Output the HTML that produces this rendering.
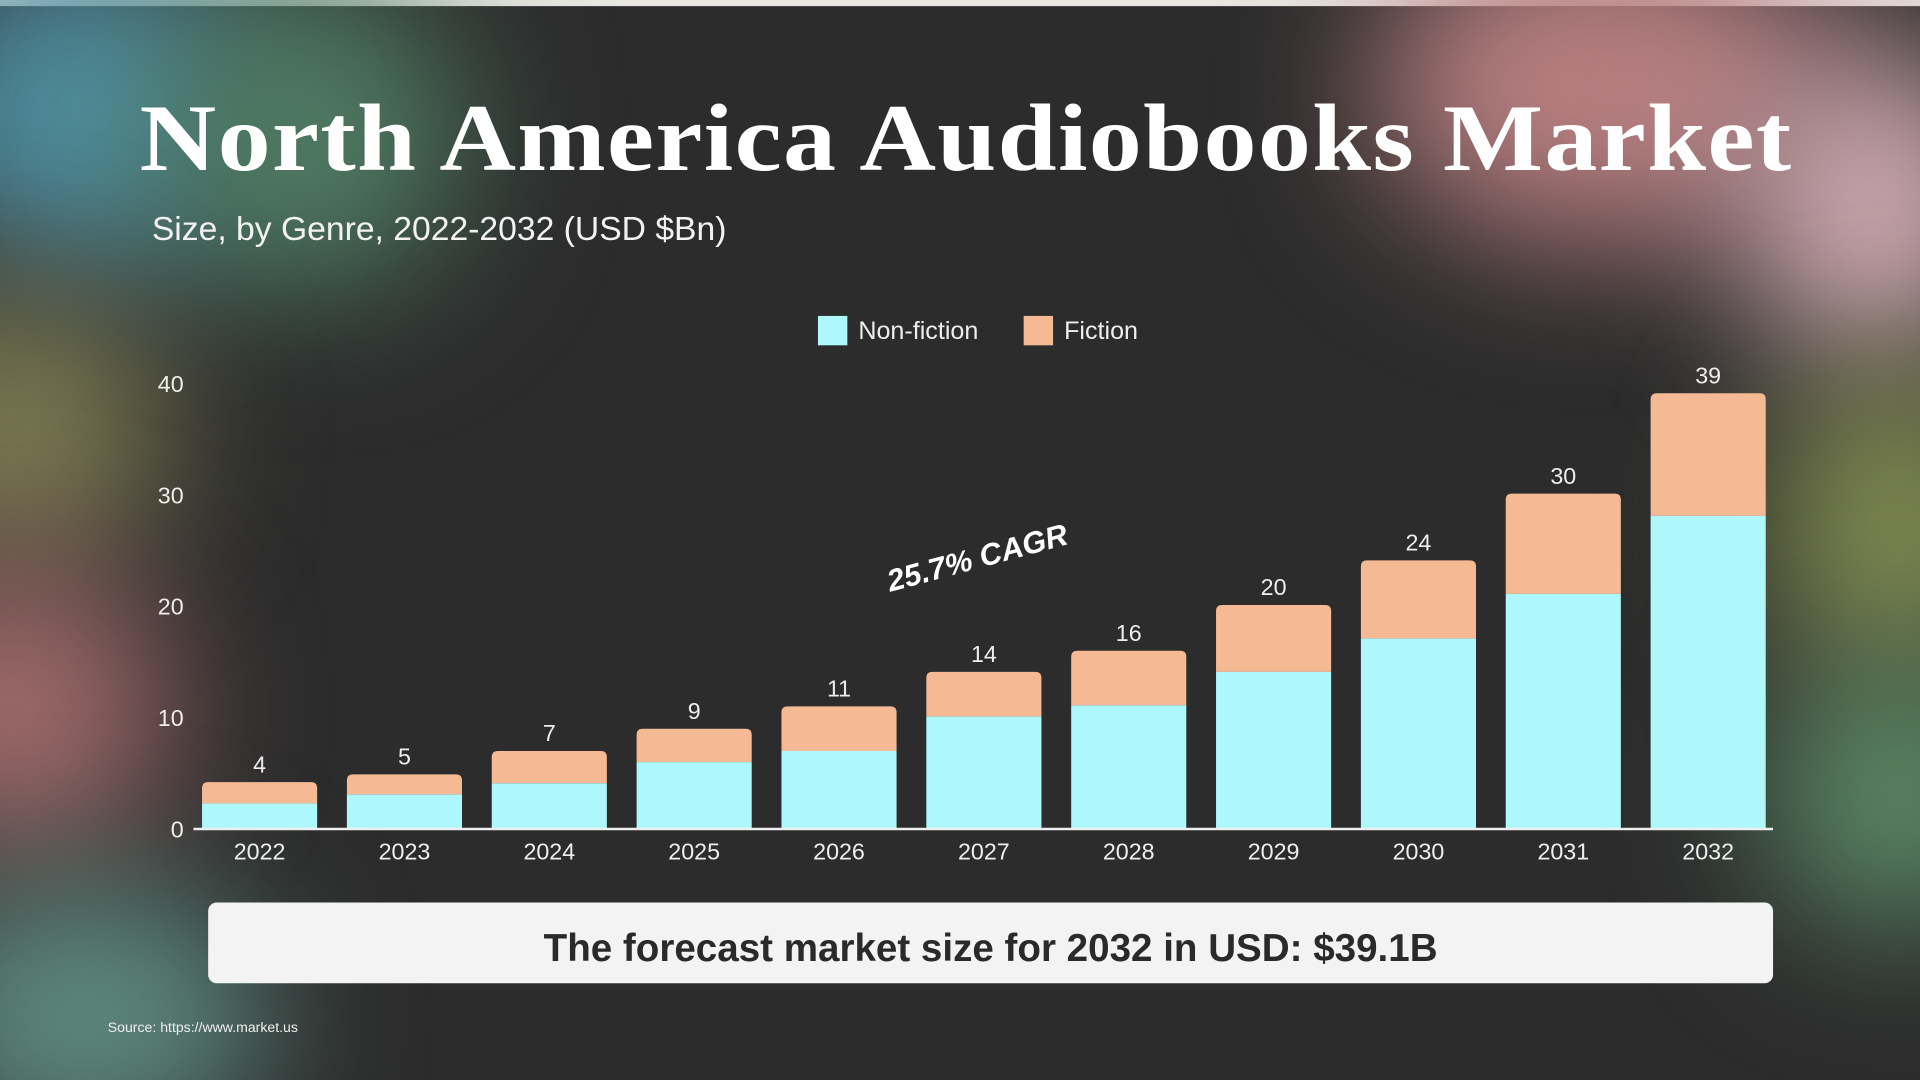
<!DOCTYPE html>
<html><head><meta charset="utf-8">
<style>
html,body{margin:0;padding:0;width:1920px;height:1080px;overflow:hidden;background:#2b2b2b}
#stage{position:absolute;left:0;top:0;width:1568px;height:882px;transform:scale(1.22449);transform-origin:0 0;overflow:hidden;background:#2c2c2c;font-family:"Liberation Sans",sans-serif}
.blob{position:absolute;border-radius:50%;filter:blur(60px)}
</style></head>
<body>
<div id="stage">
  <div style="position:absolute;left:0;top:0;width:1568px;height:5px;background:#e8e6e1"></div>
  <div class="blob" style="left:-80px;top:-40px;width:300px;height:260px;background:#4f8ea0"></div>
  <div class="blob" style="left:120px;top:-20px;width:260px;height:260px;background:#4f7a62"></div>
  <div class="blob" style="left:-120px;top:240px;width:260px;height:220px;background:#7c7a52"></div>
  <div class="blob" style="left:-120px;top:460px;width:260px;height:240px;background:#a06a6a"></div>
  <div class="blob" style="left:-80px;top:720px;width:300px;height:220px;background:#5e8a80"></div>
  <div class="blob" style="left:1120px;top:-60px;width:380px;height:260px;background:#b87f80"></div>
  <div class="blob" style="left:1420px;top:40px;width:220px;height:260px;background:#cfaab2"></div>
  <div class="blob" style="left:1440px;top:300px;width:220px;height:260px;background:#7f8a50"></div>
  <div class="blob" style="left:1440px;top:540px;width:220px;height:220px;background:#5c8a66"></div>

  <div style="position:absolute;left:0;width:1578px;top:68px;text-align:center;color:#fff;font-family:'Liberation Serif',serif;font-weight:bold;font-size:78px;letter-spacing:1px;transform:scaleX(1.11);transform-origin:789px 0">North America Audiobooks Market</div>
  <div style="position:absolute;left:124px;top:171px;color:#f2f2f2;font-size:27.5px">Size, by Genre, 2022-2032 (USD $Bn)</div>

  <svg id="chart" width="1568" height="882" style="position:absolute;left:0;top:0"></svg>

  <div style="position:absolute;left:170px;top:737px;width:1278px;height:66px;background:#f3f3f3;border-radius:7px;text-align:center;line-height:74px;font-size:31.5px;font-weight:bold;color:#2a2a2a">The forecast market size for 2032 in USD: $39.1B</div>
  <div style="position:absolute;left:88px;top:834px;font-size:11.5px;color:#eee">Source: https://www.market.us</div>
</div>
<script>
const years=["2022","2023","2024","2025","2026","2027","2028","2029","2030","2031","2032"];
const nonFiction=[2.3,3.1,4.1,6.0,7.0,10.1,11.1,14.1,17.1,21.1,28.1];
const fiction=[1.9,1.8,2.9,3.0,4.0,4.0,4.9,6.0,7.0,9.0,11.0];
const totalLabels=["4","5","7","9","11","14","16","20","24","30","39"];
const yTicks=[0,10,20,30,40];
const NS="http://www.w3.org/2000/svg";
const svg=document.getElementById('chart');
const y0=677,pxPer=9.1,x0=212,step=118.3,bw=94;
const yS=v=>y0-v*pxPer;
const xS=i=>x0+i*step;
function mk(t,a){const e=document.createElementNS(NS,t);for(const k in a)e.setAttribute(k,a[k]);svg.appendChild(e);return e;}
yTicks.forEach(v=>{
  const t=mk('text',{x:150,y:yS(v)+7,'text-anchor':'end',fill:'#eee','font-size':19,'font-family':'Liberation Sans, sans-serif'});
  
  
  t.textContent=v;
});
years.forEach((yr,i)=>{
  const cx=xS(i);
  const tot=nonFiction[i]+fiction[i];
  const p=mk('path',{d:`M${cx-bw/2},${yS(nonFiction[i])} L${cx-bw/2},${yS(tot)+5} Q${cx-bw/2},${yS(tot)} ${cx-bw/2+5},${yS(tot)} L${cx+bw/2-5},${yS(tot)} Q${cx+bw/2},${yS(tot)} ${cx+bw/2},${yS(tot)+5} L${cx+bw/2},${yS(nonFiction[i])} Z`,fill:'#f5b994'});
  
  
  const r=mk('rect',{x:cx-bw/2,y:yS(nonFiction[i]),width:bw,height:nonFiction[i]*pxPer,fill:'#aef8fb'});
  
  
  const l=mk('text',{x:cx,y:yS(tot)-8,'text-anchor':'middle',fill:'#eee','font-size':19,'font-family':'Liberation Sans, sans-serif'});
  
  
  l.textContent=totalLabels[i];
  const xl=mk('text',{x:cx,y:y0+25,'text-anchor':'middle',fill:'#eee','font-size':19,'font-family':'Liberation Sans, sans-serif'});
  
  
  xl.textContent=yr;
});
const ax=mk('line',{x1:158,x2:1448,y1:y0,y2:y0,stroke:'#eee','stroke-width':2});


const lg=[["#aef8fb","Non-fiction",668],["#f5b994","Fiction",836]];
lg.forEach(([c,n,x])=>{
  const s=mk('rect',{x:x,y:258,width:24,height:24,fill:c});
  
  
  const t=mk('text',{x:x+33,y:277,fill:'#eee','font-size':20.5,'font-family':'Liberation Sans, sans-serif'});
  
  
  t.textContent=n;
});
const cg=mk('text',{x:798,y:464,'text-anchor':'middle',fill:'#fff','font-size':25,'font-weight':'bold','font-style':'italic','font-family':'Liberation Sans, sans-serif',transform:'rotate(-15 798 455)'});


cg.textContent='25.7% CAGR';
</script>
</body></html>
